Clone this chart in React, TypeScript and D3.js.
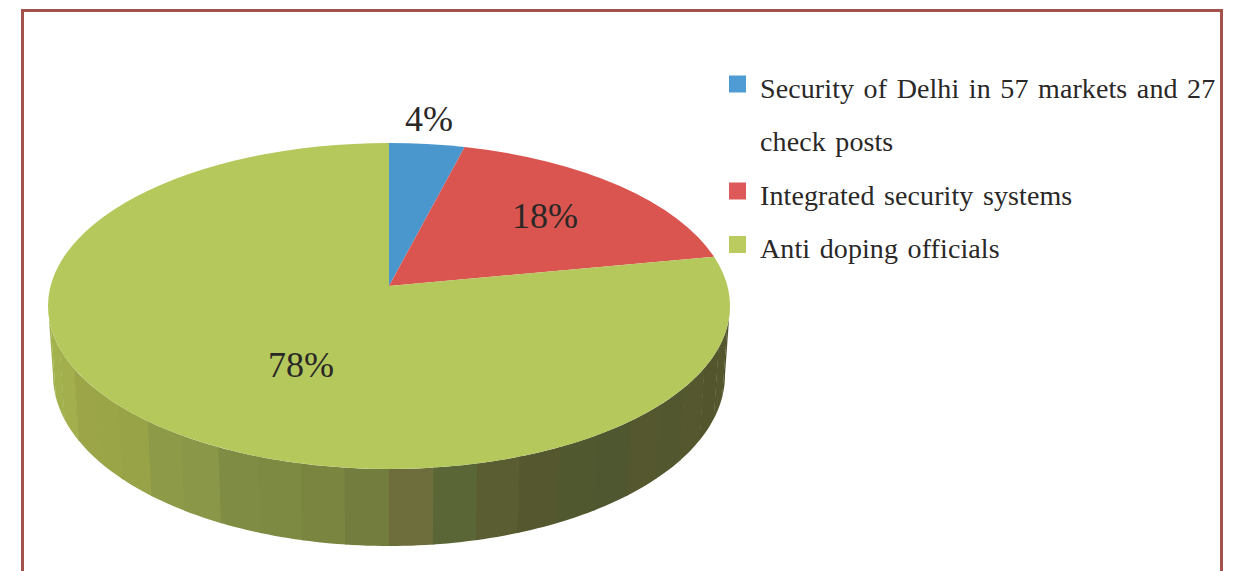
import React from "react";
import * as d3 from "d3";

const categories = ["Security of Delhi in 57 markets and 27 check posts", "Integrated security systems", "Anti doping officials"];
const legendLines = [["Security of Delhi in 57 markets and 27", "check posts"], ["Integrated security systems"], ["Anti doping officials"]];
const values = [4, 18, 78];
const sliceColors = ["#4a97ce", "#db5550", "#b4c85c"];
const legendColors = ["#4f9bd3", "#de5a5a", "#bccb5f"];
const labels = ["4%", "18%", "78%"];
const sideShades = ["#a3b34e", "#a3b24d", "#a2af4c", "#9ca648", "#9aa548", "#98a246", "#8d9a47", "#8a9648", "#7f8c44", "#7c8a42", "#7a8540", "#737d3d", "#6d6e3b", "#5a6636", "#5a5c32", "#55582f", "#50582f", "#4f5730", "#55582f", "#525730", "#55582e", "#53562d", "#54562d", "#52552c"];

const W = 1245, H = 571;
const top = { cx: 389, cy: 306, rx: 341, ry: 163 };
const bottom = { cx: 389, cy: 375, rx: 336, ry: 171 };
const apex: [number, number] = [389, 286];
const K = 2.12;
const FONT = "'Liberation Serif', serif";
const INK = "#2a2827";

// ray from the (perspective-shifted) pie centre to the rim
function rim(theta: number): [number, number] {
  const dx = K * Math.sin(theta), dy = -Math.cos(theta);
  const ox = (apex[0] - top.cx) / top.rx, oy = (apex[1] - top.cy) / top.ry;
  const ux = dx / top.rx, uy = dy / top.ry;
  const a = ux * ux + uy * uy, b = 2 * (ox * ux + oy * uy), c = ox * ox + oy * oy - 1;
  const s = (-b + Math.sqrt(b * b - 4 * a * c)) / (2 * a);
  return [apex[0] + dx * s, apex[1] + dy * s];
}

const pieAngles = d3.pie<number>().sort(null)(values);
const wedges = pieAngles.map((p) => {
  const [x0, y0] = rim(p.startAngle), [x1, y1] = rim(p.endAngle);
  const large = p.endAngle - p.startAngle > Math.PI ? 1 : 0;
  return `M${apex[0]},${apex[1]}L${x0},${y0}A${top.rx},${top.ry} 0 ${large} 1 ${x1},${y1}Z`;
});

const facetAngle = d3.scaleLinear().domain([0, sideShades.length]).range([Math.PI, 0]);
const ell = (e: typeof top, t: number): [number, number] => [e.cx + e.rx * Math.cos(t), e.cy + e.ry * Math.sin(t)];
const line = d3.line();
const facets = sideShades.map((color, i) => {
  const ts = d3.range(0, 7).map((k) => facetAngle(i + k / 6 + (k === 6 && i < sideShades.length - 1 ? 0.03 : 0)));
  const pts = [...ts.map((t) => ell(top, t)), ...ts.slice().reverse().map((t) => ell(bottom, t))];
  return { color, d: line(pts) + "Z" };
});

const labelPos: [number, number][] = [[429, 131], [545, 228], [301, 377]];
const legendX = 729, legendTextX = 760;
const legendRow = d3.scaleLinear().domain([0, 1]).range([97.5, 151]);
let row = 0;
const legendItems = legendLines.map((lines, i) => {
  const item = { i, lines, start: row };
  row += lines.length;
  return item;
});

export default function App() {
  return (
    <svg width={W} height={H} viewBox={`0 0 ${W} ${H}`} style={{ position: "absolute", left: 0, top: 0, background: "#fff" }}>
      <path d={`M22.5,${H}V10.5H1221.5V${H}`} fill="none" stroke="#a4534c" strokeWidth={3} />
      {facets.map((f, i) => <path key={i} d={f.d} fill={f.color} />)}
      {wedges.map((d, i) => <path key={categories[i]} d={d} fill={sliceColors[i]} />)}
      {labels.map((t, i) => (
        <text key={t} x={labelPos[i][0]} y={labelPos[i][1]} textAnchor="middle" fontFamily={FONT} fontSize={36} fill={INK}>{t}</text>
      ))}
      {legendItems.map(({ i, lines, start }) => (
        <g key={i}>
          <rect x={legendX} y={legendRow(start) - 22} width={17} height={17} fill={legendColors[i]} />
          {lines.map((l, j) => (
            <text key={l} x={legendTextX} y={legendRow(start + j)} fontFamily={FONT} fontSize={28} letterSpacing={0.1} wordSpacing={2.4} fill={INK}>{l}</text>
          ))}
        </g>
      ))}
    </svg>
  );
}
